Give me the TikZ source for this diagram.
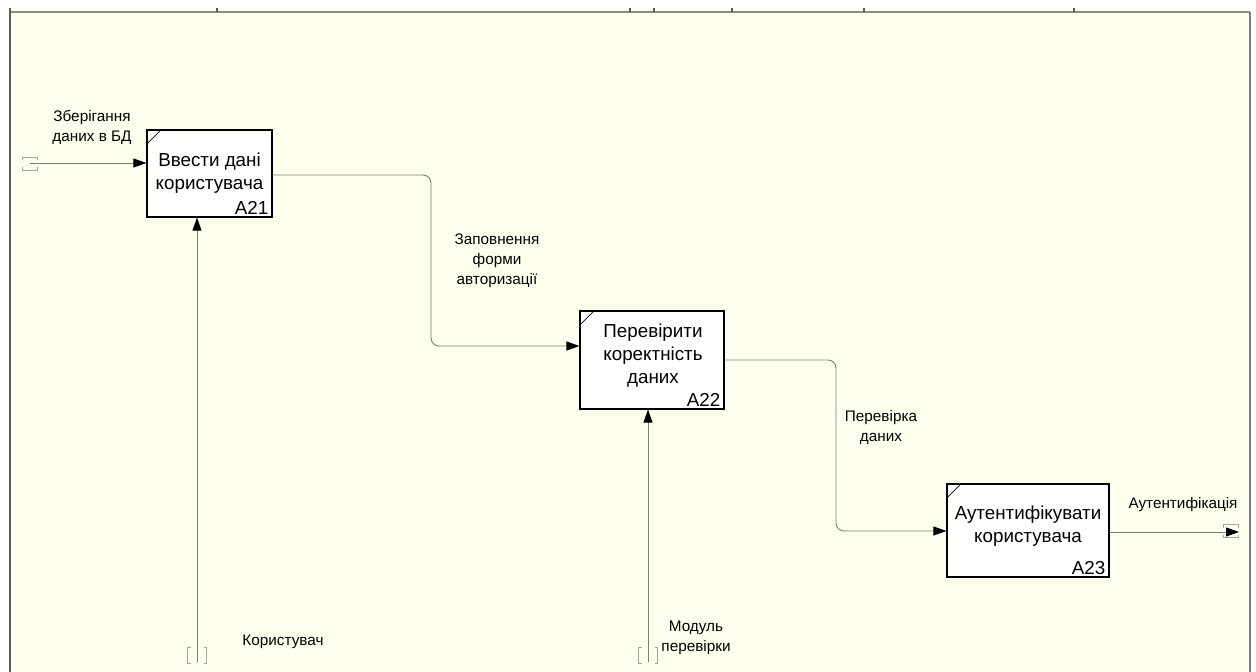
\documentclass[tikz,border=0pt]{standalone}
\usepackage{fontspec}
\setmainfont{Liberation Sans}
\usetikzlibrary{arrows.meta}
\definecolor{paper}{RGB}{255,255,238}
\definecolor{wire}{RGB}{125,125,115}
\definecolor{frameline}{RGB}{90,90,85}
\begin{document}
\begin{tikzpicture}[x=1pt,y=-1pt,
  box/.style={draw=black, line width=1.1pt, fill=white, inner sep=0pt},
  boxtext/.style={font=\fontsize{18.8}{23}\selectfont, align=center, inner sep=0pt},
  boxnum/.style={font=\fontsize{18.8}{23}\selectfont, inner sep=0pt, anchor=south east},
  lbl/.style={font=\fontsize{15.3}{20}\selectfont, align=center, inner sep=0pt},
  flow/.style={draw=wire, line width=0.9pt, -{Triangle[length=13pt,width=9pt,color=black]}},
  tunnel/.style={draw=wire!70, line width=0.8pt},
  htunnel/.pic={
    \draw[tunnel] (-7.5,-3.5) -- (-7.5,-6.5) -- (7.5,-6.5) -- (7.5,-3.5);
    \draw[tunnel] (-7.5,3.5) -- (-7.5,6.5) -- (7.5,6.5) -- (7.5,3.5);
  },
  vtunnel/.pic={
    \draw[tunnel] (-6.5,-8) -- (-9.5,-8) -- (-9.5,8) -- (-6.5,8);
    \draw[tunnel] (6.5,-8) -- (9.5,-8) -- (9.5,8) -- (6.5,8);
  },
]
\useasboundingbox (0,0) rectangle (1256,672);

% sheet and frame
\fill[white] (0,0) rectangle (1256,672);
\fill[paper] (10,8) rectangle (1250,672);
\draw[frameline!70, line width=1.6pt] (10,12) -- (1250,12);
\foreach \x in {217,630,654,732,864,1074}
  \draw[frameline, line width=1.2pt] (\x,8) -- (\x,12);
\draw[frameline, line width=2.4pt] (10,8) -- (10,672);
\draw[frameline!80, line width=2pt] (1250,12) -- (1250,672);

% activity boxes
\node[box, minimum width=125pt, minimum height=87pt] (a21) at (209.5,173.5) {};
\node[box, minimum width=144pt, minimum height=98pt] (a22) at (652,360) {};
\node[box, minimum width=162pt, minimum height=93pt] (a23) at (1028,530.5) {};

\foreach \b in {a21,a22,a23}
  \draw[black, line width=0.8pt] ([yshift=-15pt]\b.north west) -- ([xshift=15pt]\b.north west);

\node[boxtext] (a21name) at (209.5,173.5) {Ввести дані\\користувача};
\node[boxtext] (a22name) at (653,356) {Перевірити\\коректність\\даних};
\node[boxtext] (a23name) at (1028,526) {Аутентифікувати\\користувача};

\node[boxnum] (a21num) at ([xshift=-4pt,yshift=3pt]a21.south east) {A21};
\node[boxnum] (a22num) at ([xshift=-4pt,yshift=3pt]a22.south east) {A22};
\node[boxnum] (a23num) at ([xshift=-4pt,yshift=3pt]a23.south east) {A23};

% connector end points and bends
\coordinate (tin) at (30,163);
\coordinate (r1) at (431,175);
\coordinate (r1b) at (431,346);
\coordinate (r2) at (836,360);
\coordinate (r2b) at (836,531);
\coordinate (tout) at (1239,532);
\coordinate (m1) at (197,662);
\coordinate (m2) at (648,662);

% tunnels
\pic at (30,163.5) {htunnel};
\pic at (1231,531) {htunnel};
\pic at (197,655) {vtunnel};
\pic at (648,655) {vtunnel};

% connectors
\draw[flow] (tin) -- (tin -| a21.west);
\draw[flow, rounded corners=8pt] (a21.east |- r1) -- (r1) -- (r1b) -- (a22.west |- r1b);
\draw[flow, rounded corners=8pt] (a22.east |- r2) -- (r2) -- (r2b) -- (a23.west |- r2b);
\draw[flow] (a23.east |- tout) -- (tout);
\draw[flow] (m1) -- (m1 |- a21.south);
\draw[flow] (m2) -- (m2 |- a22.south);

% arrow labels
\node[lbl] (l1) at (92,127) {Зберігання\\даних в БД};
\node[lbl] (l2) at (497,261) {Заповнення\\форми\\авторизації};
\node[lbl] (l3) at (881,427) {Перевірка\\даних};
\node[lbl] (l4) at (1183,505) {Аутентифікація};
\node[lbl] (l5) at (283,642) {Користувач};
\node[lbl] (l6) at (696,637.5) {Модуль\\перевірки};
\end{tikzpicture}
\end{document}
